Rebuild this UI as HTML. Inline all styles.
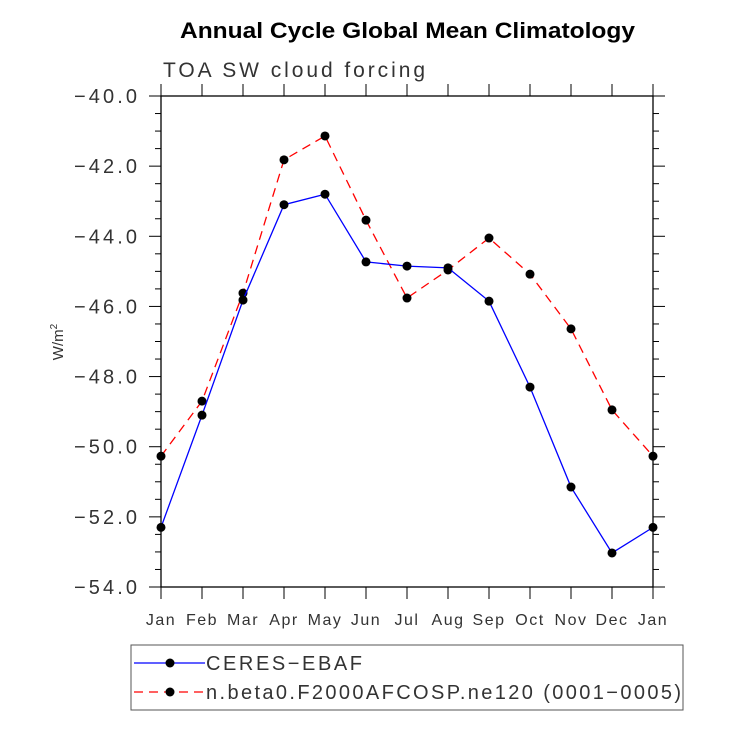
<!DOCTYPE html>
<html><head><meta charset="utf-8"><style>
body{margin:0;background:#fff}
text{font-family:"Liberation Sans",sans-serif}
</style></head><body>
<svg id="c" width="730" height="730" xmlns="http://www.w3.org/2000/svg">
<text x="180" y="38" font-size="22" font-weight="bold" textLength="455" lengthAdjust="spacingAndGlyphs">Annual Cycle Global Mean Climatology</text>
<text x="163" y="77" font-size="21" fill="#333" textLength="262" lengthAdjust="spacing">TOA SW cloud forcing</text>
<text transform="translate(63,342) rotate(-90)" text-anchor="middle" font-size="15" fill="#333">W/m<tspan font-size="10" dy="-6">2</tspan></text>
<g id="axes"></g><g id="series"></g>
<g>
<rect x="131" y="645" width="552" height="65" fill="none" stroke="#555"/>
<line x1="134" y1="663" x2="205" y2="663" stroke="#00f" stroke-width="1.3"/>
<circle cx="170" cy="663" r="4.5"/>
<text x="206" y="670" font-size="20" fill="#333" textLength="156" lengthAdjust="spacing">CERES−EBAF</text>
<line x1="134" y1="692" x2="205" y2="692" stroke="#f00" stroke-width="1.3" stroke-dasharray="9,6"/>
<circle cx="170" cy="692" r="4.5"/>
<text x="206" y="699" font-size="20" fill="#333" textLength="475" lengthAdjust="spacing">n.beta0.F2000AFCOSP.ne120 (0001−0005)</text>
</g>
</svg>
<script>
const months=["Jan","Feb","Mar","Apr","May","Jun","Jul","Aug","Sep","Oct","Nov","Dec","Jan"];
const yTicks=[-40,-42,-44,-46,-48,-50,-52,-54];
const ceres=[-52.3,-49.1,-45.82,-43.1,-42.8,-44.73,-44.85,-44.9,-45.85,-48.3,-51.15,-53.03,-52.3];
const model=[-50.27,-48.7,-45.62,-41.82,-41.14,-43.54,-45.76,-44.96,-44.05,-45.08,-46.64,-48.95,-50.27];
const L=161,R=653,T=96,B=587;
const xs=i=>L+(R-L)*i/12;
const ys=v=>T+(B-T)*(-40-v)/14;
const NS="http://www.w3.org/2000/svg";
function mk(p,tag,a){const e=document.createElementNS(NS,tag);for(const k in a)e.setAttribute(k,a[k]);p.appendChild(e);return e;}
const ax=document.getElementById('axes');
const fr=mk(ax,'rect',{x:L,y:T,width:R-L,height:B-T,fill:'none',stroke:'#000','stroke-width':1.3});


months.forEach((m,i)=>{const x=xs(i);
mk(ax,'line',{x1:x,y1:B,x2:x,y2:B+12,stroke:'#000'});
mk(ax,'line',{x1:x,y1:T,x2:x,y2:T-12,stroke:'#000'});
const t=mk(ax,'text',{x:x,y:B+38,'text-anchor':'middle','font-size':16,fill:'#333','letter-spacing':1.5});t.textContent=m;

});
for(let v=-40;v>=-54;v-=0.5){const y=ys(v);const maj=Math.abs(v%2)<1e-9;const len=maj?12:6;
mk(ax,'line',{x1:L-len,y1:y,x2:L,y2:y,stroke:'#000'});
mk(ax,'line',{x1:R,y1:y,x2:R+len,y2:y,stroke:'#000'});}
yTicks.forEach(v=>{const t=mk(ax,'text',{x:L-87,y:ys(v)+7,'font-size':20,fill:'#333',textLength:63,lengthAdjust:'spacing'});t.textContent='−'+Math.abs(v).toFixed(1);

});
const sg=document.getElementById('series');
function draw(d,col,dash,name){const pl=mk(sg,'polyline',{points:d.map((v,i)=>xs(i)+','+ys(v)).join(' '),fill:'none',stroke:col,'stroke-width':1.3,'stroke-dasharray':dash});


d.forEach((v,i)=>{const c=mk(sg,'circle',{cx:xs(i),cy:ys(v),r:4.5,fill:'#000'});

});}
draw(model,'#f00','9,6','model');
draw(ceres,'#00f','none','ceres');
</script>
</body></html>
